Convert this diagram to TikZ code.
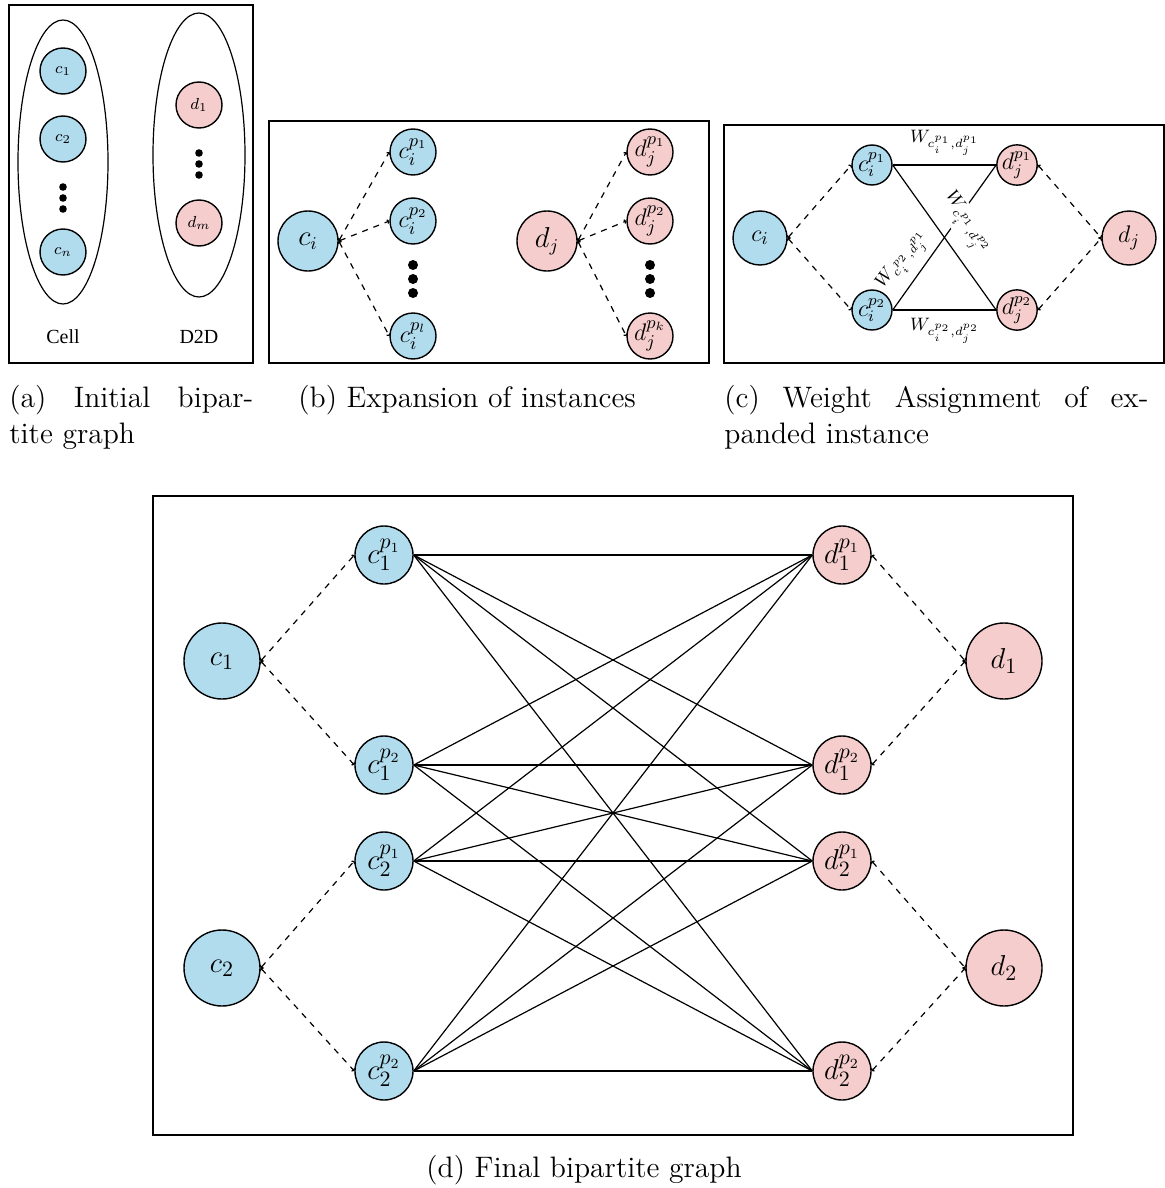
\documentclass[tikz,border=0pt]{standalone}
\usepackage{fontspec}
\newfontfamily\timesf{Liberation Serif}
\usetikzlibrary{arrows.meta}
\definecolor{cblue}{HTML}{B0DCEE}
\definecolor{dpink}{HTML}{F5CDCD}
\begin{document}
\begin{tikzpicture}[x=0.5pt,y=-0.5pt,
  cnode/.style={circle,draw,fill=cblue,line width=0.7pt,inner sep=0pt},
  dnode/.style={circle,draw,fill=dpink,line width=0.7pt,inner sep=0pt},
  frame/.style={line width=1.25pt},
  dashedge/.style={dashed,line width=0.6pt,{Straight Barb[length=0.6pt,width=2pt]}-{Straight Barb[length=0.6pt,width=2pt]}},
  wedge/.style={line width=0.6pt},
  bigdot/.style={circle,fill=black,inner sep=0pt},
  capfont/.style={font=\fontsize{14.8}{18}\selectfont,inner sep=0pt},
  wlab/.style={font=\fontsize{9}{10}\selectfont,inner sep=1pt}
]
\useasboundingbox (0,0) rectangle (1165,1188);

% ---------- (a)
\draw[frame] (9,5) rectangle (253,363);
\draw[line width=0.6pt] (63,162) ellipse [x radius=22.5pt, y radius=71pt];
\draw[line width=0.6pt] (199,155) ellipse [x radius=23pt, y radius=71pt];
\begin{scope}[every node/.append style={font=\fontsize{8.5}{9}\selectfont,minimum size=23pt}]
\node[cnode] (ac1) at (63,71) {$c_1$};
\node[cnode] (ac2) at (63,139) {$c_2$};
\node[cnode] (acn) at (63,252) {$c_n$};
\node[dnode] (ad1) at (199,105) {$d_1$};
\node[dnode] (adm) at (199,223) {$d_m$};
\end{scope}
\foreach \y [count=\k] in {187,198,209} \node[bigdot,minimum size=3.8pt] (adotc\k) at (63,\y) {};
\foreach \y [count=\k] in {153,164,175} \node[bigdot,minimum size=3.8pt] (adotd\k) at (199,\y) {};
\node[font=\timesf\fontsize{10}{12}\selectfont] (acell) at (63,337) {Cell};
\node[font=\timesf\fontsize{10}{12}\selectfont] (ad2d) at (199,337) {D2D};

% ---------- (b)
\draw[frame] (269,121) rectangle (709,363);
\node[cnode,minimum size=30pt,font=\fontsize{13.5}{15}\selectfont] (bci) at (308,241) {$c_i$};
\node[dnode,minimum size=30pt,font=\fontsize{13.5}{15}\selectfont] (bdj) at (547,241) {$d_j$};
\begin{scope}[every node/.append style={font=\fontsize{13}{15}\selectfont,minimum size=23pt}]
\node[cnode] (bc1) at (413,152) {$c_i^{p_1}$};
\node[cnode] (bc2) at (413,221) {$c_i^{p_2}$};
\node[cnode] (bcl) at (413,336) {$c_i^{p_l}$};
\node[dnode] (bd1) at (650,152) {$d_j^{p_1}$};
\node[dnode] (bd2) at (650,221) {$d_j^{p_2}$};
\node[dnode] (bdk) at (650,336) {$d_j^{p_k}$};
\end{scope}
\foreach \y [count=\k] in {265,279,293} {
  \node[bigdot,minimum size=5pt] (bdotc\k) at (413,\y) {};
  \node[bigdot,minimum size=5pt] (bdotd\k) at (650,\y) {};
}
\foreach \t in {bc1,bc2,bcl} \draw[dashedge] (bci.east) -- (\t.west);
\foreach \t in {bd1,bd2,bdk} \draw[dashedge] (bdj.east) -- (\t.west);

% ---------- (c)
\draw[frame] (724,125) rectangle (1164,363);
\node[cnode,minimum size=27pt,font=\fontsize{13}{15}\selectfont] (cci) at (760,238) {$c_i$};
\node[dnode,minimum size=27pt,font=\fontsize{13}{15}\selectfont] (cdj) at (1129,238) {$d_j$};
\begin{scope}[every node/.append style={font=\fontsize{11.5}{13}\selectfont,minimum size=20pt}]
\node[cnode] (cc1) at (872,165) {$c_i^{p_1}$};
\node[cnode] (cc2) at (872,310) {$c_i^{p_2}$};
\node[dnode] (cd1) at (1017,165) {$d_j^{p_1}$};
\node[dnode] (cd2) at (1017,310) {$d_j^{p_2}$};
\end{scope}
\draw[dashedge] (cci.east) -- (cc1.west);
\draw[dashedge] (cci.east) -- (cc2.west);
\draw[dashedge] (cd1.east) -- (cdj.west);
\draw[dashedge] (cd2.east) -- (cdj.west);
\draw[wedge] (cc1.east) -- (cd1.west);
\draw[wedge] (cc2.east) -- (cd2.west);
\draw[wedge] (cc1.east) -- (cd2.west);
\draw[wedge] (cc2.east) -- (cd1.west);
\node[wlab] (w11) at (945,143) {$W_{c_i^{p_1},d_j^{p_1}}$};
\node[wlab] (w22) at (945,331) {$W_{c_i^{p_2},d_j^{p_2}}$};
\node[wlab,rotate=54] (w21) at (904,260) {$W_{c_i^{p_2},d_j^{p_1}}$};
\node[wlab,rotate=-54,fill=white] (w12) at (966,224) {$W_{c_i^{p_1},d_j^{p_2}}$};

% ---------- (d)
\draw[frame] (153,496) rectangle (1073,1135);
\begin{scope}[every node/.append style={font=\fontsize{15}{17}\selectfont}]
\node[cnode,minimum size=38pt] (dc1) at (222,661) {$c_1$};
\node[cnode,minimum size=38pt] (dc2) at (222,968) {$c_2$};
\node[dnode,minimum size=38pt] (dd1) at (1004,661) {$d_1$};
\node[dnode,minimum size=38pt] (dd2) at (1004,968) {$d_2$};
\node[cnode,minimum size=29pt] (c11) at (384,555) {$c_1^{p_1}$};
\node[cnode,minimum size=29pt] (c12) at (384,765) {$c_1^{p_2}$};
\node[cnode,minimum size=29pt] (c21) at (384,861) {$c_2^{p_1}$};
\node[cnode,minimum size=29pt] (c22) at (384,1071) {$c_2^{p_2}$};
\node[dnode,minimum size=29pt] (d11) at (842,555) {$d_1^{p_1}$};
\node[dnode,minimum size=29pt] (d12) at (842,765) {$d_1^{p_2}$};
\node[dnode,minimum size=29pt] (d21) at (842,861) {$d_2^{p_1}$};
\node[dnode,minimum size=29pt] (d22) at (842,1071) {$d_2^{p_2}$};
\end{scope}
\draw[dashedge] (dc1.east) -- (c11.west);
\draw[dashedge] (dc1.east) -- (c12.west);
\draw[dashedge] (dc2.east) -- (c21.west);
\draw[dashedge] (dc2.east) -- (c22.west);
\draw[dashedge] (d11.east) -- (dd1.west);
\draw[dashedge] (d12.east) -- (dd1.west);
\draw[dashedge] (d21.east) -- (dd2.west);
\draw[dashedge] (d22.east) -- (dd2.west);
\foreach \s in {c11,c12,c21,c22}
  \foreach \t in {d11,d12,d21,d22}
    \draw[wedge] (\s.east) -- (\t.west);

% ---------- captions
\node[capfont,anchor=base west] (capa1) at (9,407) {\makebox[122pt][s]{(a) Initial bipar-}};
\node[capfont,anchor=base west] (capa2) at (9,443) {tite graph};
\node[capfont,anchor=base west] (capb) at (298,407) {(b) Expansion of instances};
\node[capfont,anchor=base west] (capc1) at (724,407) {\makebox[212pt][s]{(c) Weight Assignment of ex-}};
\node[capfont,anchor=base west] (capc2) at (724,443) {panded instance};
\node[capfont,anchor=base] (capd) at (584,1177) {(d) Final bipartite graph};
\end{tikzpicture}
\end{document}
